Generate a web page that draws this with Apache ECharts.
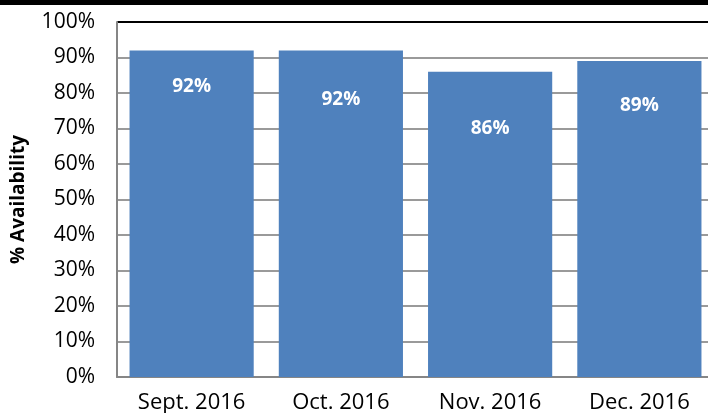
<!DOCTYPE html>
<html>
<head>
<meta charset="utf-8">
<script src="https://cdn.jsdelivr.net/npm/echarts@6/dist/echarts.min.js"></script>
<style>
html, body { margin: 0; padding: 0; background: #fff; }
.topband { position: absolute; left: 0; top: 0; width: 708px; height: 5px; background: #000; }
#chart { width: 708px; height: 413px; }
</style>
</head>
<body>
<div id="chart"></div>
<div class="topband"></div>
<script>
// months and availability (%)
const months = ['Sept. 2016', 'Oct. 2016', 'Nov. 2016', 'Dec. 2016']
const availability = [92, 92, 86, 89]
const yTicks = [0, 10, 20, 30, 40, 50, 60, 70, 80, 90, 100]

// label nudges, labels were placed by hand in the original
const labelShift = [27, 40, 47, 35]

const font = '"Open Sans", "DejaVu Sans", sans-serif'
let myChart = echarts.init(document.getElementById('chart'))

// split line colours: grey, last one (100%) black
let gridColors = yTicks.map((t, i) => i === yTicks.length - 1 ? '#000000' : '#9a9a9a')

let option = {
    backgroundColor: '#FFFFFF',
    animation: false,
    grid: {
        left: 117,
        right: -6,
        top: 22,
        bottom: 36,
        outerBoundsMode: 'none'
    },
    xAxis: {
        type: 'category',
        data: months,
        axisLine: {
            lineStyle: { color: '#868686', width: 2 }
        },
        axisTick: { show: false },
        axisLabel: {
            color: '#000',
            fontFamily: font,
            fontSize: 22,
            margin: 15
        }
    },
    yAxis: {
        type: 'value',
        min: 0,
        max: 100,
        interval: 10,
        name: '% Availability',
        nameLocation: 'middle',
        nameGap: 89,
        nameTextStyle: {
            color: '#000',
            fontFamily: font,
            fontWeight: 'bold',
            fontSize: 19
        },
        axisLine: {
            show: true,
            lineStyle: { color: '#868686', width: 2 }
        },
        axisTick: { show: false },
        axisLabel: {
            color: '#000',
            fontFamily: font,
            fontSize: 21,
            margin: 22,
            formatter: '{value}%'
        },
        splitLine: {
            lineStyle: { color: gridColors, width: 2 }
        }
    },
    series: [{
        type: 'bar',
        data: availability.map((v, i) => ({
            value: v,
            label: { offset: [0, labelShift[i]] }
        })),
        barCategoryGap: '16.8%',
        itemStyle: { color: '#4F81BD' },
        label: {
            show: true,
            position: 'insideTop',
            distance: 0,
            color: '#fff',
            fontFamily: font,
            fontWeight: 'bold',
            fontSize: 19,
            formatter: '{c}%'
        }
    }]
}
myChart.setOption(option)
</script>
</body>
</html>
